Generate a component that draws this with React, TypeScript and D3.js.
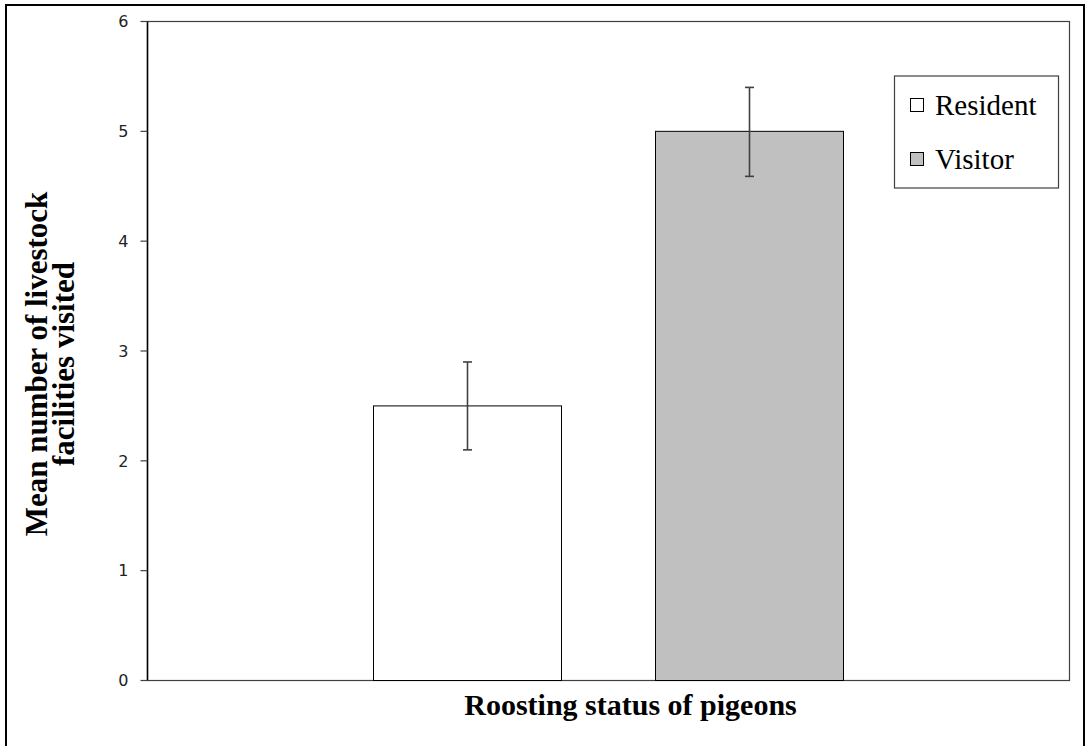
import React from "react";
import * as d3 from "d3";

// data
const series = ["Resident", "Visitor"];
const means = [2.5, 5.0];
const errLow = [2.1, 4.59];
const errHigh = [2.9, 5.4];
const fills = ["#ffffff", "#c0c0c0"];
const yTicks = [0, 1, 2, 3, 4, 5, 6];
const xTitle = "Roosting status of pigeons";
const yTitleLines = ["Mean number of livestock", "facilities visited"];

const W = 1088;
const H = 746;
const margin = { top: 21.5, left: 147.5 };
const plotW = 922;
const plotH = 659;

const App = () => {
  const y = d3.scaleLinear().domain([0, 6]).range([plotH, 0]);

  // one category, two series side by side (excel style gap)
  const x = d3
    .scaleBand<string>()
    .domain(series)
    .range([226, 696])
    .paddingInner(1 / 3)
    .paddingOuter(0);

  const serif = "'Liberation Serif', 'Times New Roman', serif";
  const sans = "'DejaVu Sans', Verdana, sans-serif";

  return (
    <svg
      width={W}
      height={H}
      style={{ position: "absolute", left: 0, top: 0, background: "#fff" }}
    >
      {/* outer chart border */}
      <rect x={6} y={5} width={1078} height={760} fill="none" stroke="#000" strokeWidth={2} />

      <g transform={`translate(${margin.left},${margin.top})`}>
        {/* plot frame */}
        <rect x={0} y={0} width={plotW} height={plotH} fill="none" stroke="#404040" strokeWidth={1.2} />

        {/* bars */}
        {series.map((s, i) => (
          <rect
            key={s}
            x={x(s)}
            y={y(means[i])}
            width={x.bandwidth()}
            height={plotH - y(means[i])}
            fill={fills[i]}
            stroke="#000"
            strokeWidth={1}
          />
        ))}

        {/* error bars */}
        {series.map((s, i) => {
          const cx = (x(s) ?? 0) + x.bandwidth() / 2;
          return (
            <g key={s + "err"} stroke="#404040" strokeWidth={1.6}>
              <line x1={cx} x2={cx} y1={y(errHigh[i])} y2={y(errLow[i])} />
              <line x1={cx - 4.5} x2={cx + 4.5} y1={y(errHigh[i])} y2={y(errHigh[i])} />
              <line x1={cx - 4.5} x2={cx + 4.5} y1={y(errLow[i])} y2={y(errLow[i])} />
            </g>
          );
        })}

        {/* y axis */}
        <line x1={0} x2={0} y1={0} y2={plotH} stroke="#000" strokeWidth={1.5} />
        {yTicks.map((t) => (
          <g key={t} transform={`translate(0,${y(t)})`}>
            <line x1={-7} x2={0} stroke="#404040" strokeWidth={1.2} />
            <text
              x={-19}
              dy="0.36em"
              textAnchor="end"
              fontFamily={sans}
              fontSize={16}
              fill="#222"
            >
              {t}
            </text>
          </g>
        ))}
      </g>

      {/* axis titles */}
      <text
        x={margin.left + plotW / 2 + 22}
        y={715}
        textAnchor="middle"
        fontFamily={serif}
        fontWeight="bold"
        fontSize={30}
      >
        {xTitle}
      </text>
      {yTitleLines.map((l, i) => (
        <text
          key={l}
          transform={`translate(${47 + i * 27},364) rotate(-90)`}
          textAnchor="middle"
          fontFamily={serif}
          fontWeight="bold"
          fontSize={31}
        >
          {l}
        </text>
      ))}

      {/* legend */}
      <g>
        <rect x={894.5} y={76} width={164} height={112} fill="#fff" stroke="#404040" strokeWidth={1.2} />
        {series.map((s, i) => (
          <g key={s + "leg"} transform={`translate(910,${98 + i * 54})`}>
            <rect x={0.5} y={0.5} width={13} height={13} fill={fills[i]} stroke="#000" strokeWidth={1} />
            <text x={25} y={17} fontFamily={serif} fontSize={29}>
              {s}
            </text>
          </g>
        ))}
      </g>
    </svg>
  );
};

export default App;
